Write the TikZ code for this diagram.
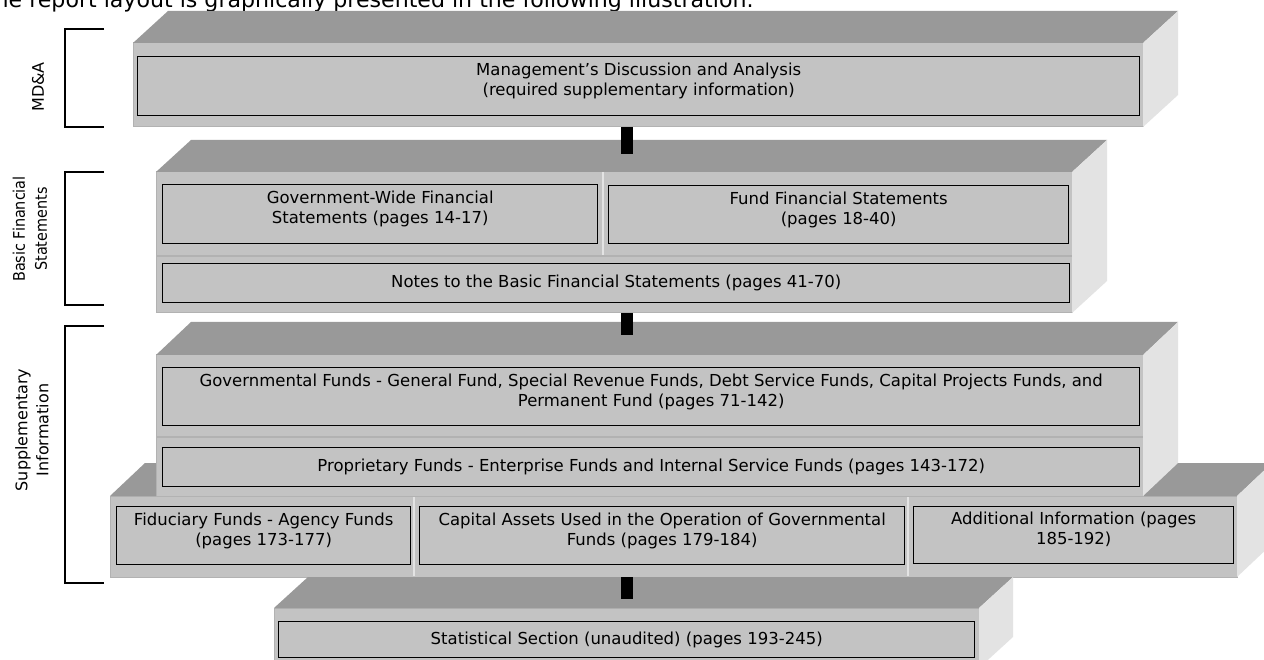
\documentclass[tikz,border=0pt]{standalone}
\usepackage{fontspec}
\setmainfont{DejaVu Sans}
\newfontfamily\narrowfont{DejaVu Sans Condensed}
\definecolor{topgray}{HTML}{999999}
\definecolor{frontgray}{HTML}{C3C3C3}
\definecolor{sidegray}{HTML}{E3E3E3}
\definecolor{edgegray}{HTML}{B2B2B2}
\begin{document}
\begin{tikzpicture}[x=1pt, y=-1pt,
    front/.style={fill=frontgray, draw=edgegray, line width=1pt, inner sep=0pt, outer sep=0pt, anchor=north west},
    cell/.style={fill=frontgray, draw=black, line width=1.4pt, inner sep=0pt, anchor=north west, align=center, font=\fontsize{16.5}{20}\selectfont},
    twoline/.style={text depth=13pt},
    topface/.style={fill=topgray},
    sideface/.style={fill=sidegray},
    sep/.style={draw=edgegray, line width=1.5pt},
    bar/.style={line width=12pt},
    tag/.style={rotate=90, align=center, font=\fontsize{16}{21}\selectfont}]

    \useasboundingbox (0,0) rectangle (1264,660);
    \fill[white] (0,0) rectangle (1264,660);
    \clip (0,0) rectangle (1264,660);

    \node[anchor=base east, font=\fontsize{22.1}{22.1}\selectfont] (intro) at (757,8)
        {The report layout is graphically presented in the following illustration.};
    \coordinate (bx) at (627,0);

    % MD&A
    \node[front, minimum width=1010pt, minimum height=84pt] (f1) at (133,43) {};
    \fill[topface] (f1.north west) -- ++(35,-32) -- ++(1010,0) -- (f1.north east) -- cycle;
    \fill[sideface] (f1.north east) -- ++(35,-32) -- ++(0,84) -- (f1.south east) -- cycle;
    \node[cell, twoline, minimum width=1002pt, minimum height=59pt] (md) at (137,56)
        {Management’s Discussion and Analysis\\(required supplementary information)};

    % basic financial statements
    \node[front, minimum width=916pt, minimum height=141pt] (f2) at (156,172) {};
    \fill[topface] (f2.north west) -- ++(35,-32) -- ++(916,0) -- (f2.north east) -- cycle;
    \fill[sideface] (f2.north east) -- ++(35,-32) -- ++(0,141) -- (f2.south east) -- cycle;
    \draw[sep] (f2.west |- 0,256) -- (f2.east |- 0,256);
    \draw[draw=sidegray, line width=1.5pt] (603,172) -- (603,255);
    \node[cell, twoline, minimum width=435pt, minimum height=59pt] (gw) at (162,184)
        {Government-Wide Financial\\Statements (pages 14-17)};
    \node[cell, twoline, minimum width=460pt, minimum height=58pt] (ff) at (608,185)
        {Fund Financial Statements\\(pages 18-40)};
    \node[cell, minimum width=907pt, minimum height=39pt] (nt) at (162,263)
        {Notes to the Basic Financial Statements (pages 41-70)};
    \draw[bar] (f1.south -| bx) -- ++(0,27);

    % supplementary information, lower row first
    \node[front, minimum width=1127pt, minimum height=81pt] (f4) at (110,496) {};
    \fill[topface] (f4.north west) -- ++(35,-33) -- ++(1127,0) -- (f4.north east) -- cycle;
    \fill[sideface] (f4.north east) -- ++(35,-33) -- ++(0,81) -- (f4.south east) -- cycle;
    \draw[draw=sidegray, line width=1.5pt] (414,497) -- (414,576);
    \draw[draw=sidegray, line width=1.5pt] (908,497) -- (908,576);
    \node[cell, twoline, minimum width=294pt, minimum height=58pt] (fd) at (116,506)
        {Fiduciary Funds - Agency Funds\\(pages 173-177)};
    \node[cell, twoline, minimum width=485pt, minimum height=58pt] (ca) at (419,506)
        {Capital Assets Used in the Operation of Governmental\\Funds (pages 179-184)};
    \node[cell, twoline, minimum width=320pt, minimum height=57pt] (ai) at (913,506)
        {Additional Information (pages\\185-192)};

    \node[front, minimum width=987pt, minimum height=141pt] (f3) at (156,355) {};
    \fill[topface] (f3.north west) -- ++(35,-33) -- ++(987,0) -- (f3.north east) -- cycle;
    \fill[sideface] (f3.north east) -- ++(35,-33) -- ++(0,141) -- (f3.south east) -- cycle;
    \draw[sep] (f3.west |- 0,437) -- (f3.east |- 0,437);
    \node[cell, twoline, minimum width=977pt, minimum height=58pt] (gv) at (162,367)
        {Governmental Funds - General Fund, Special Revenue Funds, Debt Service Funds, Capital Projects Funds, and\\Permanent Fund (pages 71-142)};
    \node[cell, minimum width=977pt, minimum height=39pt] (pf) at (162,447)
        {Proprietary Funds - Enterprise Funds and Internal Service Funds (pages 143-172)};
    \draw[bar] (f2.south -| bx) -- ++(0,22);

    % statistical section
    \node[front, minimum width=705pt, minimum height=60pt] (f5) at (274,608) {};
    \fill[topface] (f5.north west) -- ++(34,-31) -- ++(705,0) -- (f5.north east) -- cycle;
    \fill[sideface] (f5.north east) -- ++(34,-31) -- ++(0,60) -- (f5.south east) -- cycle;
    \node[cell, minimum width=696pt, minimum height=36pt] (ss) at (278,621)
        {Statistical Section (unaudited) (pages 193-245)};
    \draw[bar] (f4.south -| bx) -- ++(0,22);

    % brackets
    \draw[line width=1.3pt] (104,29) -- (65,29) -- (65,127) -- (104,127);
    \draw[line width=1.3pt] (104,172) -- (65,172) -- (65,305) -- (104,305);
    \draw[line width=1.3pt] (104,326) -- (65,326) -- (65,583) -- (104,583);
    \node[tag] (tmda) at (38,87) {MD\&A};
    \node[tag, font=\narrowfont\fontsize{16}{22}\selectfont] (tbfs) at (30,229) {Basic Financial\\Statements};
    \node[tag] (tsup) at (32,430) {Supplementary\\Information};

\end{tikzpicture}
\end{document}
